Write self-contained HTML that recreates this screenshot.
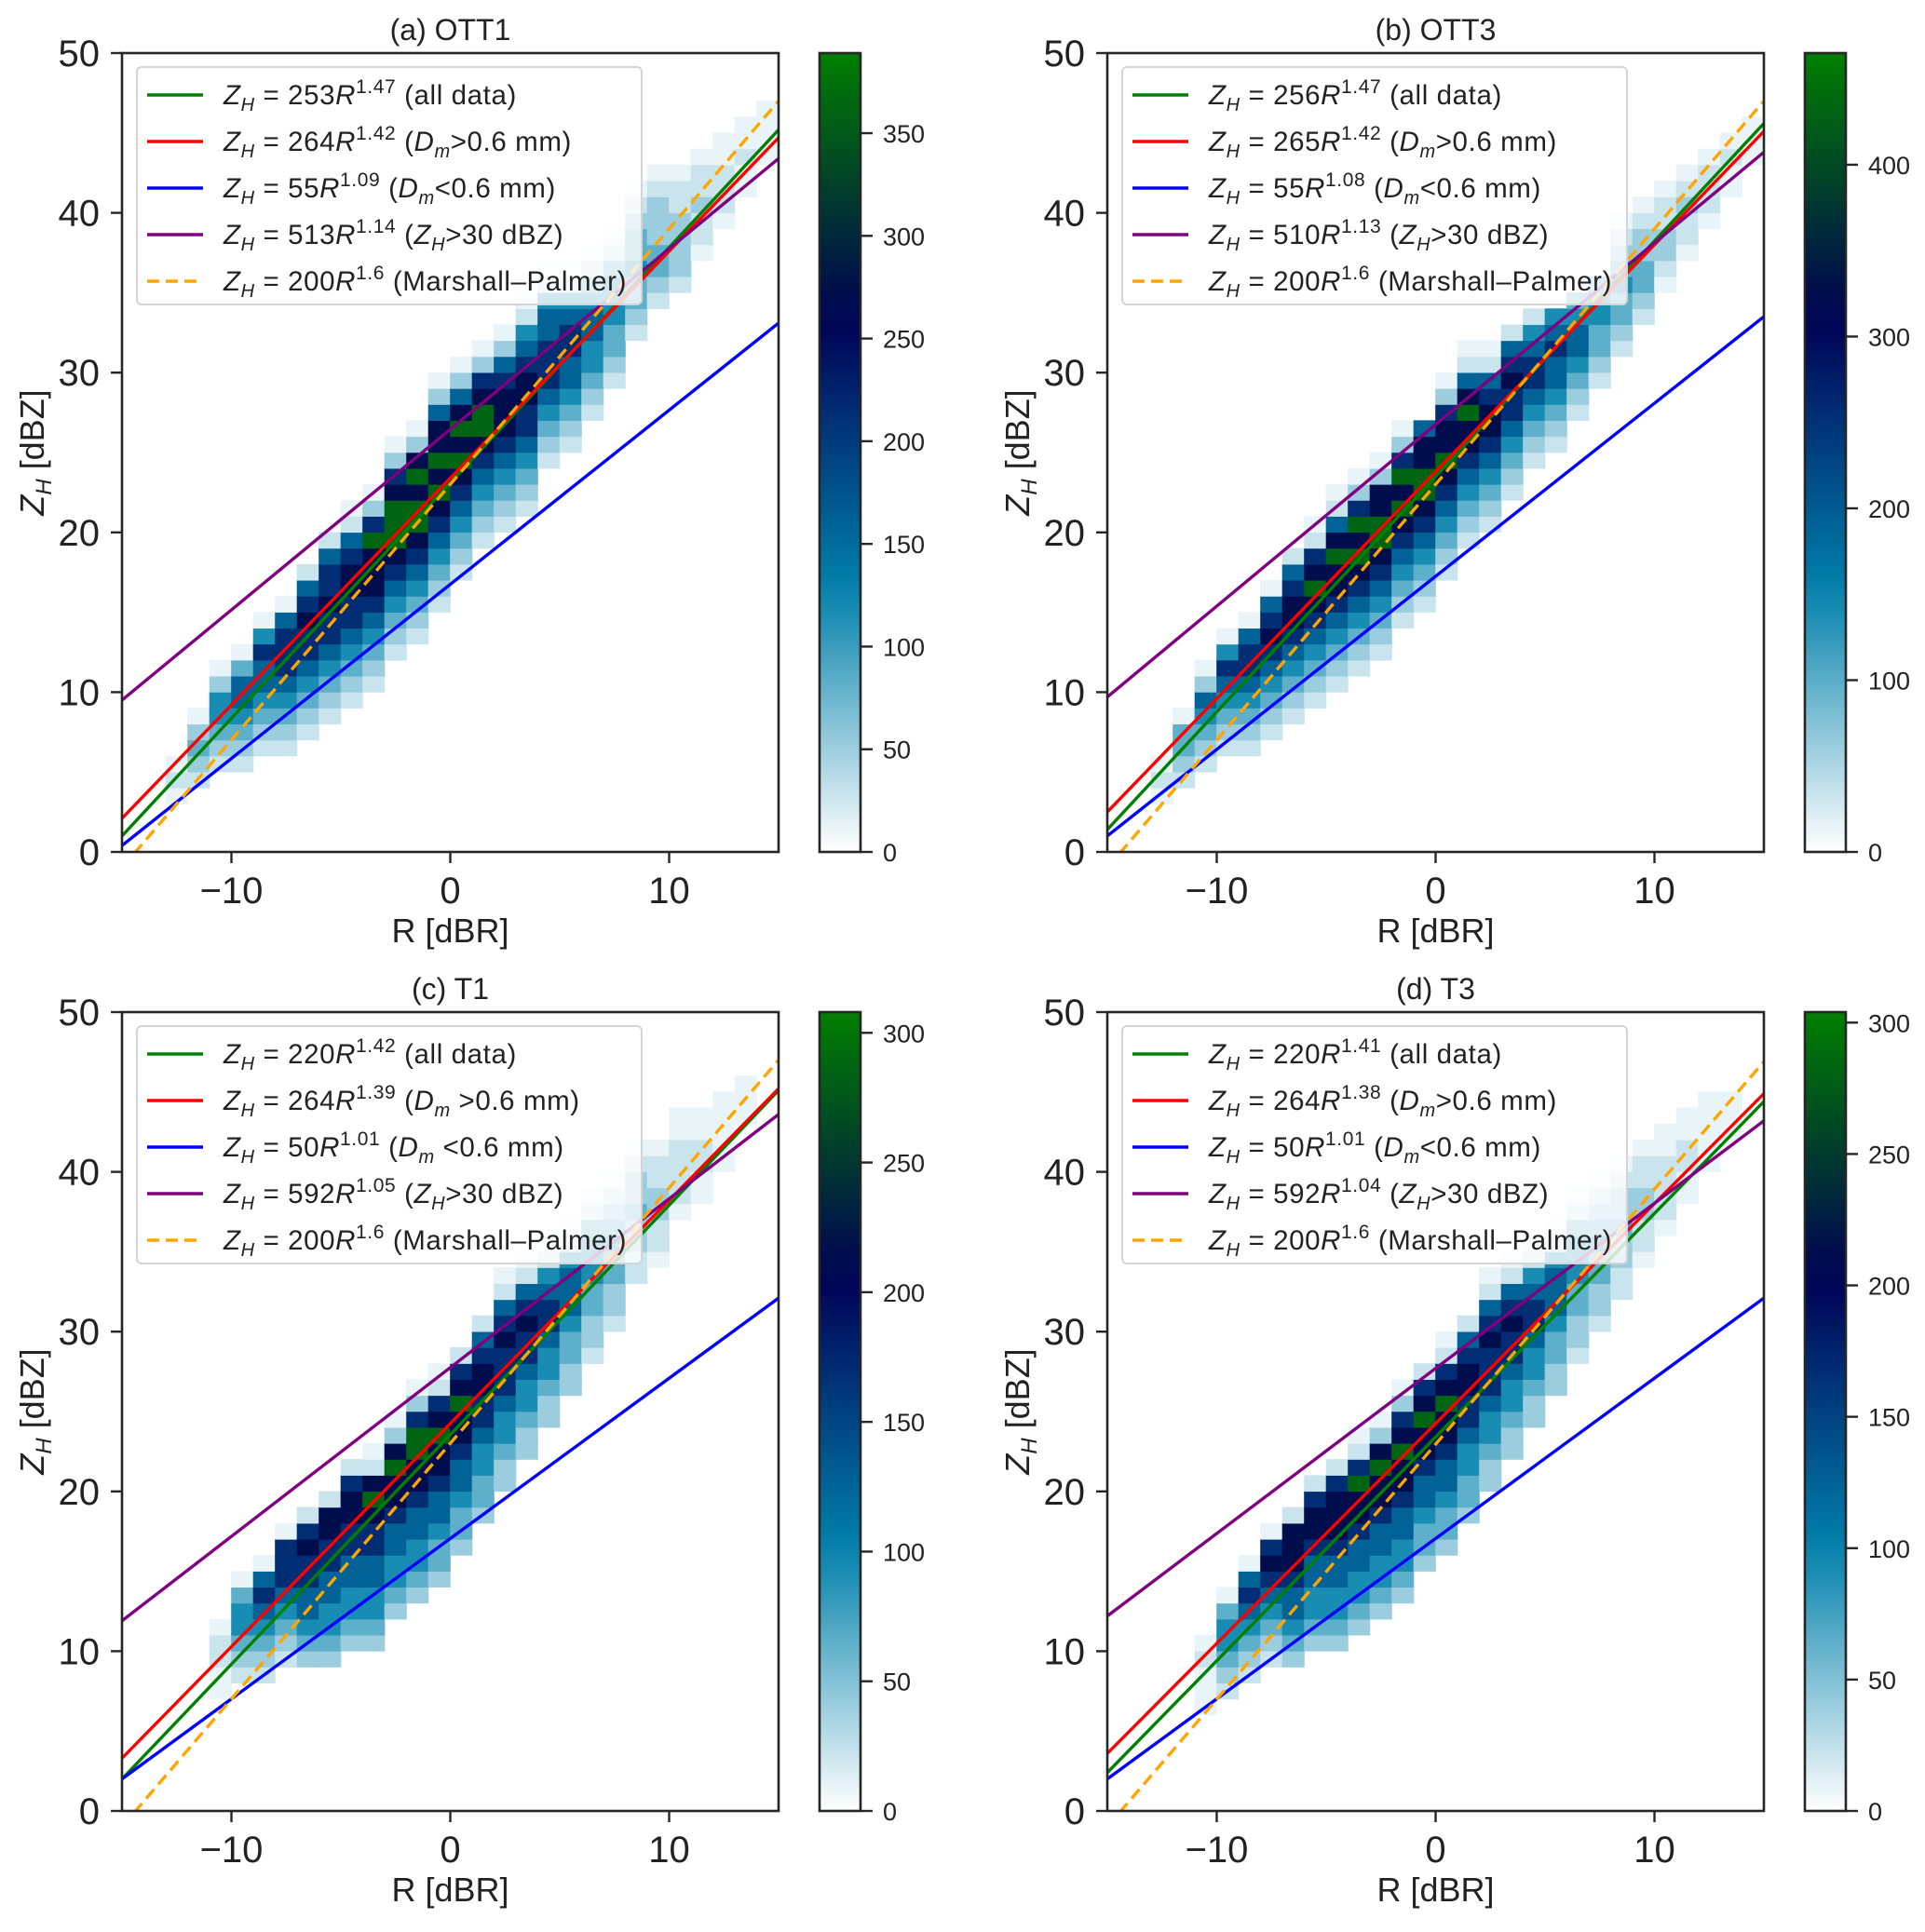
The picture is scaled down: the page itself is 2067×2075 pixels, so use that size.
<!DOCTYPE html>
<html><head><meta charset="utf-8"><style>
html,body{margin:0;padding:0;background:#fff}
svg text{font-family:"Liberation Sans","DejaVu Sans",sans-serif;fill:#222}
</style></head><body>
<svg id="fig" xmlns="http://www.w3.org/2000/svg" width="2067" height="2070" viewBox="0 0 2067 2070"></svg>
<script>
// ---------- data ----------
const titles = ["(a) OTT1","(b) OTT3","(c) T1","(d) T3"];
const xTicks = [-10,0,10];
const yTicks = [0,10,20,30,40,50];
// line values at R=-15 dBR and R=+15 dBR : green, red, blue, purple, orange
const lineLeftA = [1.0,2.1,0.4,9.5,-0.99];
const lineRightA = [45.2,44.7,33.1,43.4,47.0];
const lineLeftB = [1.4,2.5,1.0,9.7,-0.99];
const lineRightB = [45.6,45.1,33.5,43.8,47.0];
const lineLeftC = [2.0,3.3,2.0,11.9,-0.99];
const lineRightC = [45.1,45.2,32.1,43.6,47.0];
const lineLeftD = [2.4,3.6,2.0,12.2,-0.99];
const lineRightD = [44.4,44.9,32.1,43.2,46.9];
const coefA = ["253","264","55","513","200"], expA = ["1.47","1.42","1.09","1.14","1.6"];
const coefB = ["256","265","55","510","200"], expB = ["1.47","1.42","1.08","1.13","1.6"];
const coefC = ["220","264","50","592","200"], expC = ["1.42","1.39","1.01","1.05","1.6"];
const coefD = ["220","264","50","592","200"], expD = ["1.41","1.38","1.01","1.04","1.6"];
const cbTicksA = [0,50,100,150,200,250,300,350], vmaxA = 389;
const cbTicksB = [0,100,200,300,400], vmaxB = 465;
const cbTicksC = [0,50,100,150,200,250,300], vmaxC = 308;
const cbTicksD = [0,50,100,150,200,250,300], vmaxD = 304;
// count fraction of vmax for each level digit
const levelFrac = [0,0.03,0.07,0.13,0.21,0.3,0.41,0.55,0.7,0.93];
// heatmap columns: bin start (dBR), lowest row (dBZ), level strings upward
const hmXA = [-13,-12,-11,-10,-9,-8,-7,-6,-5,-4,-3,-2,-1,0,1,2,3,4,5,6,7,8,9,10,11,12,13,14];
const hmLoA = [3,4,5,5,6,6,7,8,9,10,12,13,15,17,19,20,21,24,25,27,29,32,34,35,37,39,41,43];
const hmLvA = ["121","23431","2345531","23456641","234566751","2345677761","23456778762","234567787762","2345677887621","2345678889731","23456789998731","23456789989831","234567898988631","23456789898631","2345678998731","2345678887631","23456778876521","2345677766521","234566776521","23455665421","2344555421","2344544321","234433321","23333221","1223221","122211","11211","1111"];
const hmXB = [-13,-12,-11,-10,-9,-8,-7,-6,-5,-4,-3,-2,-1,0,1,2,3,4,5,6,7,8,9,10,11,12,13,14];
const hmLoB = [3,4,5,6,6,7,8,9,10,11,12,14,15,17,19,20,22,24,25,27,29,31,33,35,37,39,41,43];
const hmLvB = ["121","23441","2345631","23456751","234567761","2345678761","23456788762","234567898721","2345678898621","2345678989731","2345678998831","2345678989731","234567899886","2345678988731","2345678898621","234567887621","23456778762","2345677652","234566765","23456654","2344554","234454321","23443321","1233221","122321","12221","1121","111"];
const hmXC = [-11,-10,-9,-8,-7,-6,-5,-4,-3,-2,-1,0,1,2,3,4,5,6,7,8,9,10,11,12,13];
const hmLoC = [7,8,8,9,9,9,10,10,12,13,14,16,18,20,22,24,26,28,30,33,34,37,38,40,43];
const hmLvC = ["11221","2345541","23456761","234567771","3456677872","34556677882","345566778872","3455667789821","3455667889831","34556678899731","34456678898721","3445667889872","3445567788762","33455677787621","3345567787621","334556776521","33445666521","23344555421","2334454321","223343321","12233221","1222211","112211","11111","111"];
const hmXD = [-11,-10,-9,-8,-7,-6,-5,-4,-3,-2,-1,0,1,2,3,4,5,6,7,8,9,10,11,12,13];
const hmLoD = [6,7,8,9,9,10,10,11,12,13,15,16,18,20,22,24,26,28,30,32,34,36,38,40,42];
const hmLvD = ["11121","2345541","23456761","234567871","3456678882","34556678872","345566788872","3455667889721","3455667889831","34556678898731","3445667889872","34456678898721","3445567788762","33455677787621","3345567787621","334556776521","33445666521","23344555421","2334454321","223343321","12233221","1222211","112211","11111","111"];

const lineColors = ["#008000","#ff0000","#0000ff","#800080","#ffa500"];

const panels = [
 {px:131,py:57, title:titles[0], L:lineLeftA,R:lineRightA, coef:coefA, ex:expA, cb:cbTicksA, vmax:vmaxA, hx:hmXA, hl:hmLoA, hv:hmLvA, dmSpace:""},
 {px:1189,py:57, title:titles[1], L:lineLeftB,R:lineRightB, coef:coefB, ex:expB, cb:cbTicksB, vmax:vmaxB, hx:hmXB, hl:hmLoB, hv:hmLvB, dmSpace:""},
 {px:131,py:1087, title:titles[2], L:lineLeftC,R:lineRightC, coef:coefC, ex:expC, cb:cbTicksC, vmax:vmaxC, hx:hmXC, hl:hmLoC, hv:hmLvC, dmSpace:" "},
 {px:1189,py:1087, title:titles[3], L:lineLeftD,R:lineRightD, coef:coefD, ex:expD, cb:cbTicksD, vmax:vmaxD, hx:hmXD, hl:hmLoD, hv:hmLvD, dmSpace:""}
];

// ---------- rendering ----------
const NS="http://www.w3.org/2000/svg";
const svg=document.getElementById('fig');
const W=705,H=858;
function mk(tag,attrs,parent){const e=document.createElementNS(NS,tag);for(const k in attrs)e.setAttribute(k,attrs[k]);(parent||svg).appendChild(e);return e;}
function oceanR(t){const x=1-Math.max(0,Math.min(1,t));const r=Math.max(0,Math.min(1,3*x-2)),g=Math.abs((3*x-1)/2),b=x;return `rgb(${Math.round(r*255)},${Math.round(g*255)},${Math.round(b*255)})`;}
const defs=mk('defs',{});
const grad=mk('linearGradient',{id:'ocr',x1:0,y1:1,x2:0,y2:0},defs);
for(let i=0;i<=20;i++){mk('stop',{offset:(i/20),'stop-color':oceanR(i/20)},grad);}

panels.forEach((p,pi)=>{
  const sx=v=>p.px+(v+15)/30*W;
  const sy=v=>p.py+H-v/50*H;
  const g=mk('g',{});
  
  
  const cp=mk('clipPath',{id:'clip'+pi},defs);
  mk('rect',{x:p.px,y:p.py,width:W,height:H},cp);
  const hm=mk('g',{'clip-path':`url(#clip${pi})`},g);
  
  
  p.hx.forEach((x0,ci)=>{
    const s=p.hv[ci];
    for(let k=0;k<s.length;k++){
      const lv=+s[k]; if(!lv) continue;
      const row=p.hl[ci]+k;
      const val=levelFrac[lv]*p.vmax;
      const c=mk('rect',{x:sx(x0)-0.3,y:sy(row+1)-0.3,width:sx(x0+1)-sx(x0)+0.6,height:sy(row)-sy(row+1)+0.6,fill:oceanR(val/p.vmax)},hm);
      
      
    }
  });
  const lg=mk('g',{'clip-path':`url(#clip${pi})`},g);
  const lnames=['fit-all-data','fit-dm-large','fit-dm-small','fit-zh-30','marshall-palmer'];
  p.L.forEach((lv,li)=>{
    const a={x1:sx(-15),y1:sy(lv),x2:sx(15),y2:sy(p.R[li]),stroke:lineColors[li],'stroke-width':3.4};
    if(li===4){a['stroke-dasharray']='13,7';}
    const l=mk('line',a,lg);
    
    
  });
  const fr=mk('rect',{x:p.px,y:p.py,width:W,height:H,fill:'none',stroke:'#262626','stroke-width':2.6},g);
  
  
  xTicks.forEach(t=>{
    mk('line',{x1:sx(t),y1:p.py+H,x2:sx(t),y2:p.py+H+12,stroke:'#262626','stroke-width':2.4},g);
    const tx=mk('text',{x:sx(t),y:p.py+H+55,'text-anchor':'middle','font-size':40},g);
    tx.textContent=(t<0?'−':'')+Math.abs(t);
    
    
  });
  yTicks.forEach(t=>{
    mk('line',{x1:p.px-12,y1:sy(t),x2:p.px,y2:sy(t),stroke:'#262626','stroke-width':2.4},g);
    const tx=mk('text',{x:p.px-24,y:sy(t)+14,'text-anchor':'end','font-size':40},g);
    tx.textContent=t;
    
    
  });
  const tt=mk('text',{x:p.px+W/2,y:p.py-14,'text-anchor':'middle','font-size':32},g);
  tt.textContent=p.title;
  
  
  const xl=mk('text',{x:p.px+W/2,y:p.py+H+97,'text-anchor':'middle','font-size':36},g);
  xl.textContent='R [dBR]';
  
  
  const ylx=p.px-84, yly=p.py+H/2;
  const yl=mk('text',{x:ylx,y:yly,'text-anchor':'middle','font-size':36,transform:`rotate(-90 ${ylx} ${yly})`},g);
  
  
  yl.innerHTML='<tspan font-style="italic">Z</tspan><tspan font-style="italic" font-size="24" dy="8">H</tspan><tspan dy="-8"> [dBZ]</tspan>';
  const lgd=mk('g',{},g);
  
  
  mk('rect',{x:p.px+16,y:p.py+15,width:542,height:255,rx:5,fill:'rgba(255,255,255,0.8)',stroke:'#d4d4d4','stroke-width':2},lgd);
  const conds=['(all data)',`(<tspan font-style="italic">D</tspan><tspan font-style="italic" font-size="20" dy="7">m</tspan><tspan dy="-7">${p.dmSpace}&gt;0.6 mm)</tspan>`,`(<tspan font-style="italic">D</tspan><tspan font-style="italic" font-size="20" dy="7">m</tspan><tspan dy="-7">${p.dmSpace}&lt;0.6 mm)</tspan>`,'(<tspan font-style="italic">Z</tspan><tspan font-style="italic" font-size="20" dy="7">H</tspan><tspan dy="-7">&gt;30 dBZ)</tspan>','(Marshall–Palmer)'];
  for(let k=0;k<5;k++){
    const yy=p.py+45+k*50;
    const a={x1:p.px+27,y1:yy,x2:p.px+87,y2:yy,stroke:lineColors[k],'stroke-width':3.4};
    if(k===4)a['stroke-dasharray']='13,7';
    const sl=mk('line',a,lgd);
    
    
    const te=mk('text',{x:p.px+109,y:yy+10,'font-size':29.5,'letter-spacing':0.6},lgd);
    
    
    te.innerHTML=`<tspan font-style="italic">Z</tspan><tspan font-style="italic" font-size="20" dy="7">H</tspan><tspan dy="-7"> = ${p.coef[k]}</tspan><tspan font-style="italic">R</tspan><tspan font-size="21" dy="-12">${p.ex[k]}</tspan><tspan dy="12"> ${conds[k]}</tspan>`;
  }
  const cbx=p.px+749, cbw=44;
  const cbg=mk('g',{},g);
  
  
  mk('rect',{x:cbx,y:p.py,width:cbw,height:H,fill:'url(#ocr)',stroke:'#262626','stroke-width':2.6},cbg);
  p.cb.forEach(t=>{
    const yy=p.py+H-t/p.vmax*H;
    mk('line',{x1:cbx+cbw,y1:yy,x2:cbx+cbw+13,y2:yy,stroke:'#262626','stroke-width':2.4},cbg);
    const tx=mk('text',{x:cbx+cbw+24,y:yy+10,'font-size':27},cbg);
    tx.textContent=t;
    
    
  });
});
</script>
</body></html>
